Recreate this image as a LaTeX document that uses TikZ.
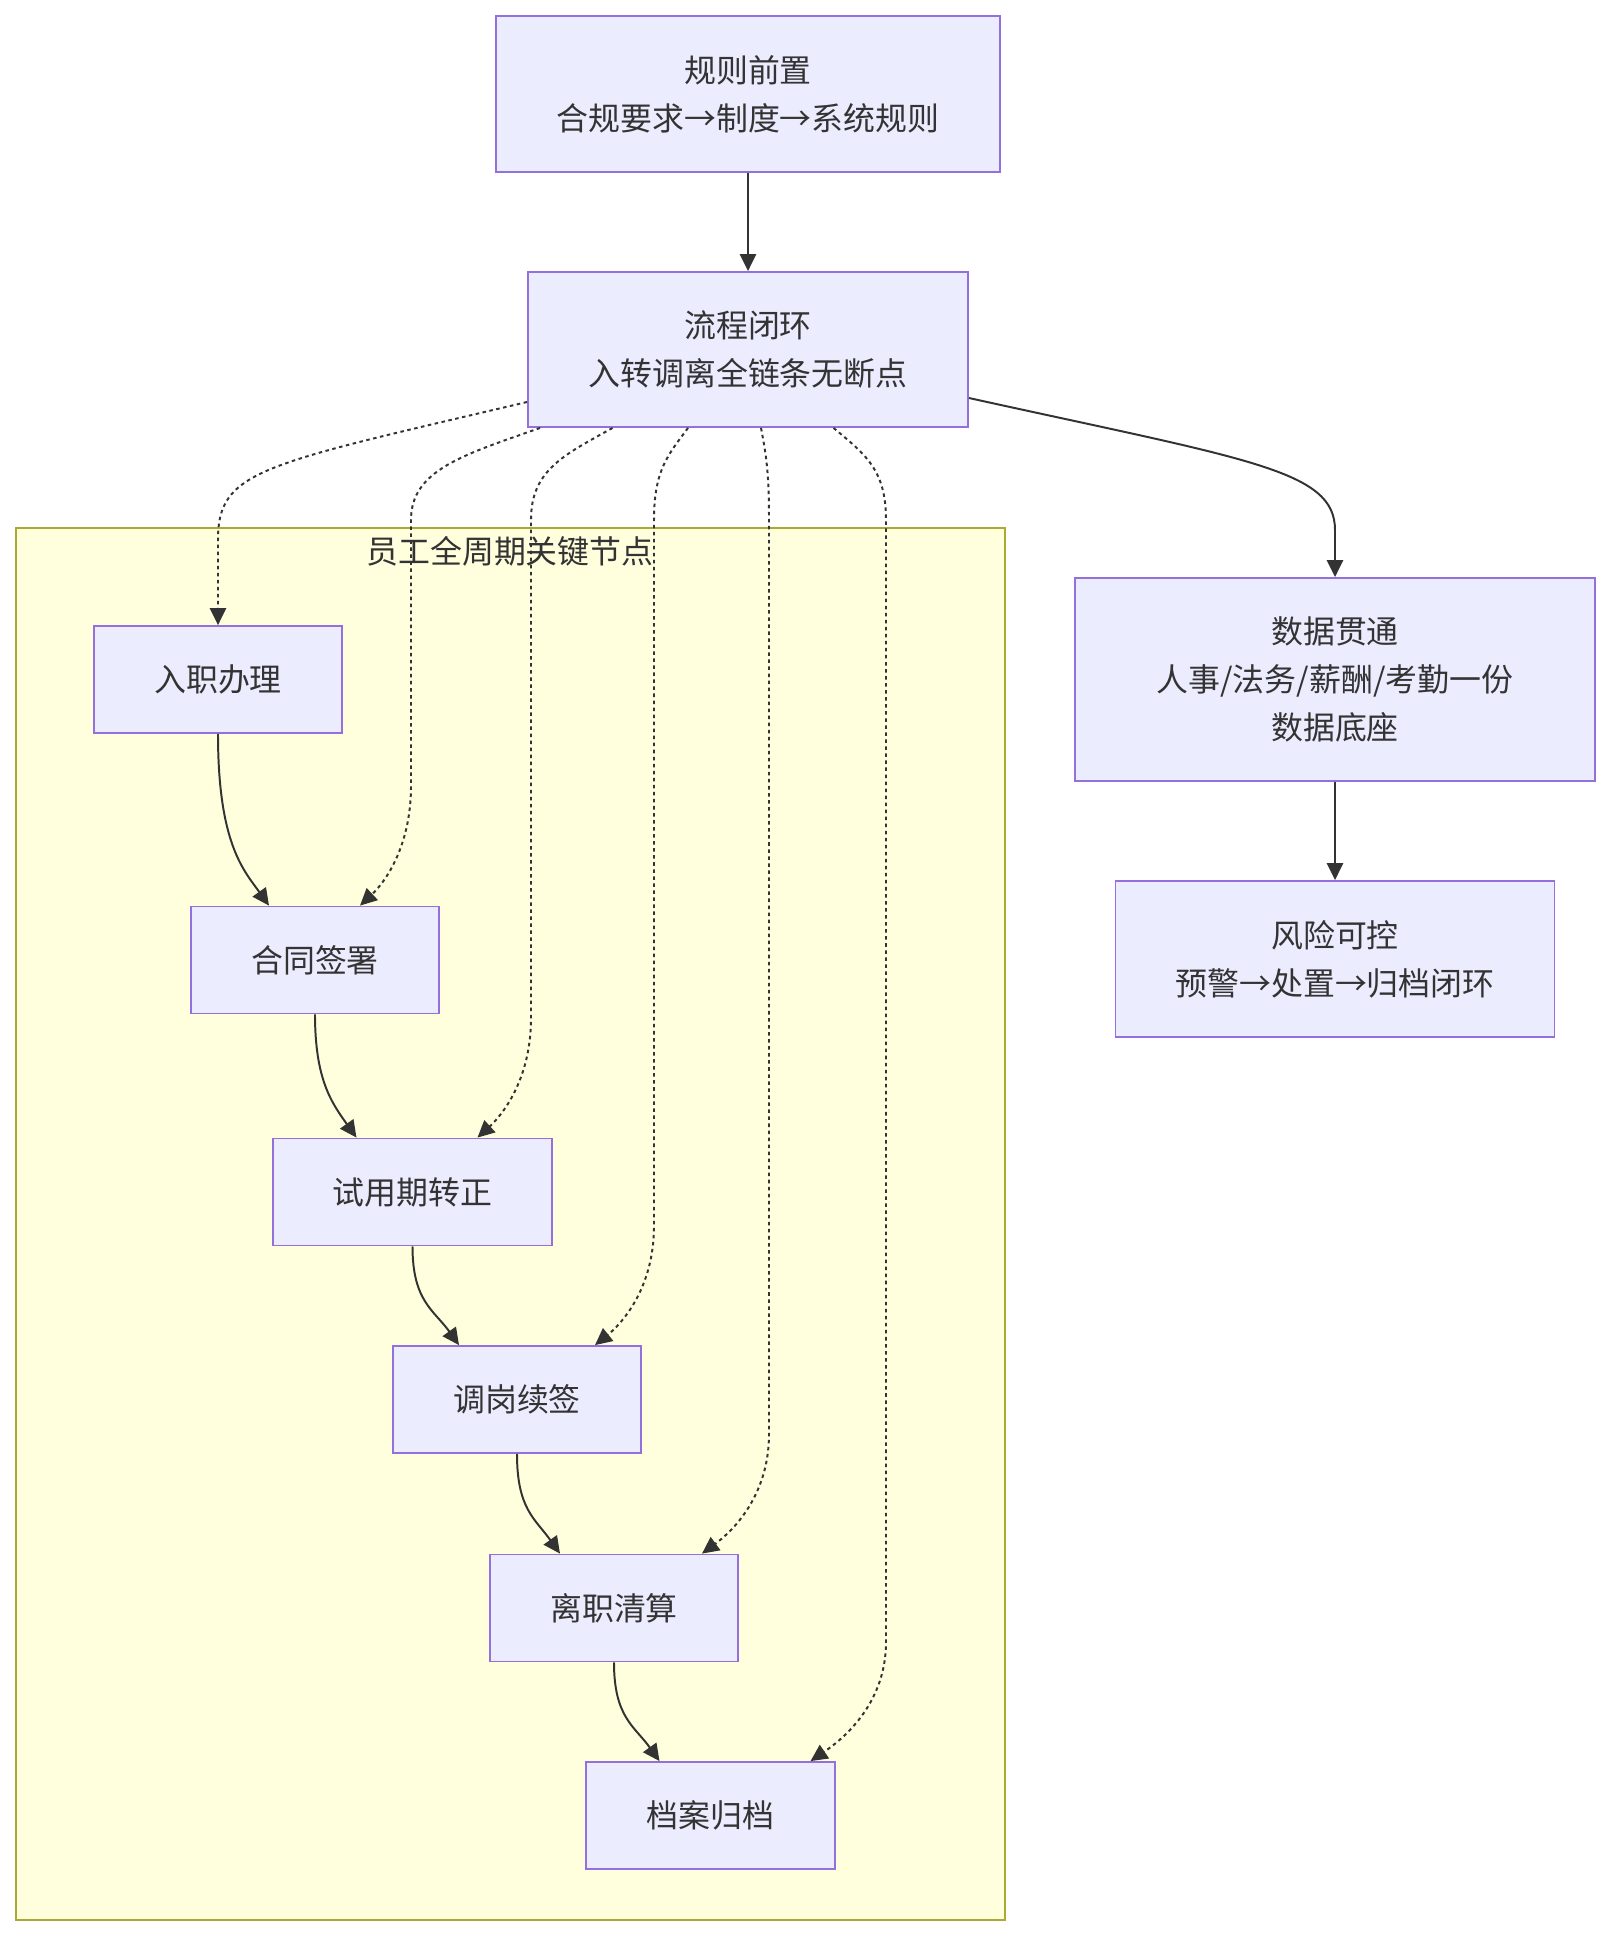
\documentclass[tikz,border=0pt]{standalone}
\usepackage{fontspec}
\setmainfont{Noto Sans CJK SC}
\usepackage{tikz}
\usetikzlibrary{arrows.meta,calc}
\usepackage{xcolor}
\definecolor{nodefill}{HTML}{ECECFF}
\definecolor{nodeline}{HTML}{9370DB}
\definecolor{groupfill}{HTML}{FFFFDE}
\definecolor{groupline}{HTML}{AAAA33}
\definecolor{ink}{HTML}{333333}
\tikzset{
  box/.style={draw=nodeline, fill=nodefill, line width=1.3pt, align=center, inner sep=0pt, text=ink, font=\fontsize{22.7}{34}\selectfont},
  arrow/.style={-{Triangle[length=12pt,width=11.5pt]}, line width=1.4pt, draw=ink},
  dashedarrow/.style={arrow, dash pattern=on 2.5pt off 2.5pt},
  lbl/.style={text=ink, font=\fontsize{22.7}{34}\selectfont}
}

\begin{document}
\begin{tikzpicture}[x=0.025cm, y=0.025cm]
\useasboundingbox (0,0) rectangle (1611,-1936);
% lifecycle group
\draw[groupline, fill=groupfill, line width=1.3pt] (16,-528) rectangle (1005,-1920);
\node[lbl] (grouptitle) at (510,-551) {员工全周期关键节点};
% top chain
\node[box, minimum width=12.6cm, minimum height=3.9cm] (rules) at (748,-94) {规则前置\\合规要求→制度→系统规则};
\node[box, minimum width=11cm, minimum height=3.875cm] (loop) at (748,-349.5) {流程闭环\\入转调离全链条无断点};
% right column
\node[box, minimum width=13cm, minimum height=5.075cm] (data) at (1335,-679.5) {数据贯通\\人事/法务/薪酬/考勤一份\\数据底座};
\node[box, minimum width=10.975cm, minimum height=3.9cm] (risk) at (1335,-959) {风险可控\\预警→处置→归档闭环};
% lifecycle stages
\node[box, minimum width=6.2cm, minimum height=2.675cm] (onboard) at (218,-679.5) {入职办理};
\node[box, minimum width=6.2cm, minimum height=2.675cm] (contract) at (315,-960) {合同签署};
\node[box, minimum width=6.975cm, minimum height=2.675cm] (probation) at (412.5,-1192) {试用期转正};
\node[box, minimum width=6.2cm, minimum height=2.675cm] (transfer) at (517,-1399.5) {调岗续签};
\node[box, minimum width=6.2cm, minimum height=2.675cm] (exit) at (614,-1608) {离职清算};
\node[box, minimum width=6.225cm, minimum height=2.675cm] (archive) at (710.5,-1815.5) {档案归档};
% solid links
\draw[arrow] (rules) -- (loop);
\draw[arrow] ($(loop.east)+(0,-48.5)$) .. controls (1250,-460) and (1335,-470) .. (1335,-530) -- (data.north);
\draw[arrow] (data) -- (risk);
\foreach \a/\b/\d/\h in {onboard/contract/46/110, contract/probation/56/65, probation/transfer/58/55, transfer/exit/54/55, exit/archive/51/55}{
  \draw[arrow] (\a.south) .. controls +(0,-\h) and +(-25,35) .. ($(\b.north)+(-\d,0)$);
}
% dotted links from the loop into each stage
\draw[dashedarrow] ($(loop.west)+(0,-52.5)$) .. controls (260,-465) and (218,-470) .. (218,-540) -- (onboard.north);
\draw[dashedarrow] ($(loop.south west)+(13,0)$) .. controls (463,-455) and (411,-470) .. (411,-520) -- (411,-786) .. controls (411,-850) and (382,-885) .. ($(contract.north)+(45,0)$);
\draw[dashedarrow] ($(loop.south west)+(85.5,0)$) .. controls (564,-455) and (531,-470) .. (531,-520) -- (531,-1018) .. controls (531,-1082) and (500,-1117) .. ($(probation.north)+(65,0)$);
\draw[dashedarrow] ($(loop.south west)+(161,0)$) .. controls (668,-455) and (654,-470) .. (654,-520) -- (654,-1226) .. controls (654,-1290) and (620,-1325) .. ($(transfer.north)+(78,0)$);
\draw[dashedarrow] ($(loop.south west)+(234,0)$) .. controls (766,-455) and (769,-470) .. (769,-520) -- (769,-1434) .. controls (769,-1498) and (730,-1533) .. ($(exit.north)+(88,0)$);
\draw[dashedarrow] ($(loop.south west)+(306.5,0)$) .. controls (866,-455) and (886,-470) .. (886,-520) -- (886,-1642) .. controls (886,-1706) and (840,-1741) .. ($(archive.north)+(100,0)$);
\end{tikzpicture}
\end{document}
